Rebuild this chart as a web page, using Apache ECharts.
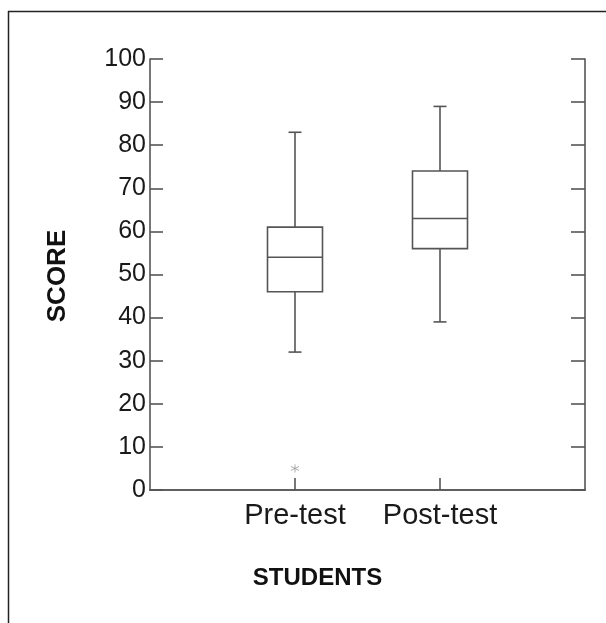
<!DOCTYPE html>
<html>
<head>
<meta charset="utf-8">
<script src="https://cdn.jsdelivr.net/npm/echarts@6/dist/echarts.min.js"></script>
<style>
html,body{margin:0;padding:0;background:#fff;}
#chart{width:606px;height:623px;}
</style>
</head>
<body>
<div id="chart"></div>
<script>
// ---- data ----
const categories = ['Pre-test', 'Post-test'];
const mins    = [32, 39];
const q1s     = [46, 56];
const medians = [54, 63];
const q3s     = [61, 74];
const maxs    = [83, 89];
const outliers = [['Pre-test', 5]];
const yTicks = [0, 10, 20, 30, 40, 50, 60, 70, 80, 90, 100];
const xAxisName = 'STUDENTS';
const yAxisName = 'SCORE';

// ---- chart ----
const FONT = "'Liberation Sans', Arial, Helvetica, sans-serif";
const LINE = '#555';
const chart = echarts.init(document.getElementById('chart'), null, {renderer: 'canvas'});

const axisCats = [''].concat(categories, ['']);
const boxData = categories.map((c, i) => [c, mins[i], q1s[i], medians[i], q3s[i], maxs[i]]);

function renderBox(params, api) {
  const x = api.value(0);
  const lo = api.coord([x, api.value(1)]);
  const q1 = api.coord([x, api.value(2)]);
  const md = api.coord([x, api.value(3)]);
  const q3 = api.coord([x, api.value(4)]);
  const hi = api.coord([x, api.value(5)]);
  const hw = 27.5, cw = 6.5;
  const st = {stroke: LINE, lineWidth: 1.6, fill: null};
  const cx = lo[0];
  return {
    type: 'group',
    children: [
      {type: 'line', shape: {x1: cx, y1: lo[1], x2: cx, y2: q1[1]}, style: st},
      {type: 'line', shape: {x1: cx, y1: q3[1], x2: cx, y2: hi[1]}, style: st},
      {type: 'line', shape: {x1: cx - cw, y1: lo[1], x2: cx + cw, y2: lo[1]}, style: st},
      {type: 'line', shape: {x1: cx - cw, y1: hi[1], x2: cx + cw, y2: hi[1]}, style: st},
      {type: 'rect', shape: {x: cx - hw, y: q3[1], width: 2 * hw, height: q1[1] - q3[1]}, style: {stroke: LINE, lineWidth: 1.6, fill: '#fff'}},
      {type: 'line', shape: {x1: cx - hw, y1: md[1], x2: cx + hw, y2: md[1]}, style: st}
    ]
  };
}

const option = {
  backgroundColor: '#fff',
  animation: false,
  grid: {left: 150, right: 21, top: 59, bottom: 133},
  xAxis: [{
    type: 'category',
    data: axisCats,
    boundaryGap: false,
    position: 'bottom',
    axisLine: {show: true, lineStyle: {color: LINE, width: 1.6}},
    axisTick: {show: true, inside: true, length: 12, interval: (i) => i === 1 || i === 2, lineStyle: {color: LINE, width: 1.6}},
    axisLabel: {fontFamily: FONT, fontSize: 29, color: '#1a1a1a', margin: 11, interval: 0},
    splitLine: {show: false}
  }, {
    type: 'category',
    data: axisCats,
    boundaryGap: false,
    position: 'top',
    axisLine: {show: true, lineStyle: {color: LINE, width: 1.6}},
    axisTick: {show: false},
    axisLabel: {show: false},
    splitLine: {show: false}
  }],
  yAxis: [{
    type: 'value',
    min: 0, max: 100, interval: 10,
    position: 'left',
    axisLine: {show: true, lineStyle: {color: LINE, width: 1.6}},
    axisTick: {show: true, inside: true, length: 13, lineStyle: {color: LINE, width: 1.6}},
    axisLabel: {fontFamily: FONT, fontSize: 25, color: '#1a1a1a', margin: 4,
      formatter: (v) => yTicks.indexOf(v) >= 0 ? String(v) : ''},
    splitLine: {show: false}
  }, {
    type: 'value',
    min: 0, max: 100, interval: 10,
    position: 'right',
    axisLine: {show: true, lineStyle: {color: LINE, width: 1.6}},
    axisTick: {show: true, inside: true, length: 14, lineStyle: {color: LINE, width: 1.6}},
    axisLabel: {show: false},
    splitLine: {show: false}
  }],
  series: [{
    type: 'custom',
    renderItem: renderBox,
    xAxisIndex: 0, yAxisIndex: 0,
    encode: {x: 0, y: [1, 2, 3, 4, 5]},
    data: boxData,
    z: 3
  }, {
    type: 'scatter',
    xAxisIndex: 0, yAxisIndex: 0,
    data: outliers,
    symbol: 'path://M0,-1L0,1M-0.87,-0.5L0.87,0.5M-0.87,0.5L0.87,-0.5',
    symbolSize: 8,
    itemStyle: {color: 'none', borderColor: '#999', borderWidth: 1},
    z: 4
  }],
  graphic: [
    {type: 'line', shape: {x1: 8.5, y1: 11, x2: 8.5, y2: 623}, style: {stroke: '#222', lineWidth: 1.5}},
    {type: 'line', shape: {x1: 8, y1: 11.5, x2: 606, y2: 11.5}, style: {stroke: '#222', lineWidth: 1.5}},
    {type: 'text', x: 317.5, y: 566,
      style: {text: xAxisName, font: "bold 24px " + FONT, fill: '#111', align: 'center', verticalAlign: 'top'}},
    {type: 'text', x: 58, y: 276, rotation: Math.PI / 2,
      style: {text: yAxisName, font: "bold 26px " + FONT, fill: '#111', align: 'center', verticalAlign: 'middle'}}
  ]
};
chart.setOption(option);
</script>
</body>
</html>
